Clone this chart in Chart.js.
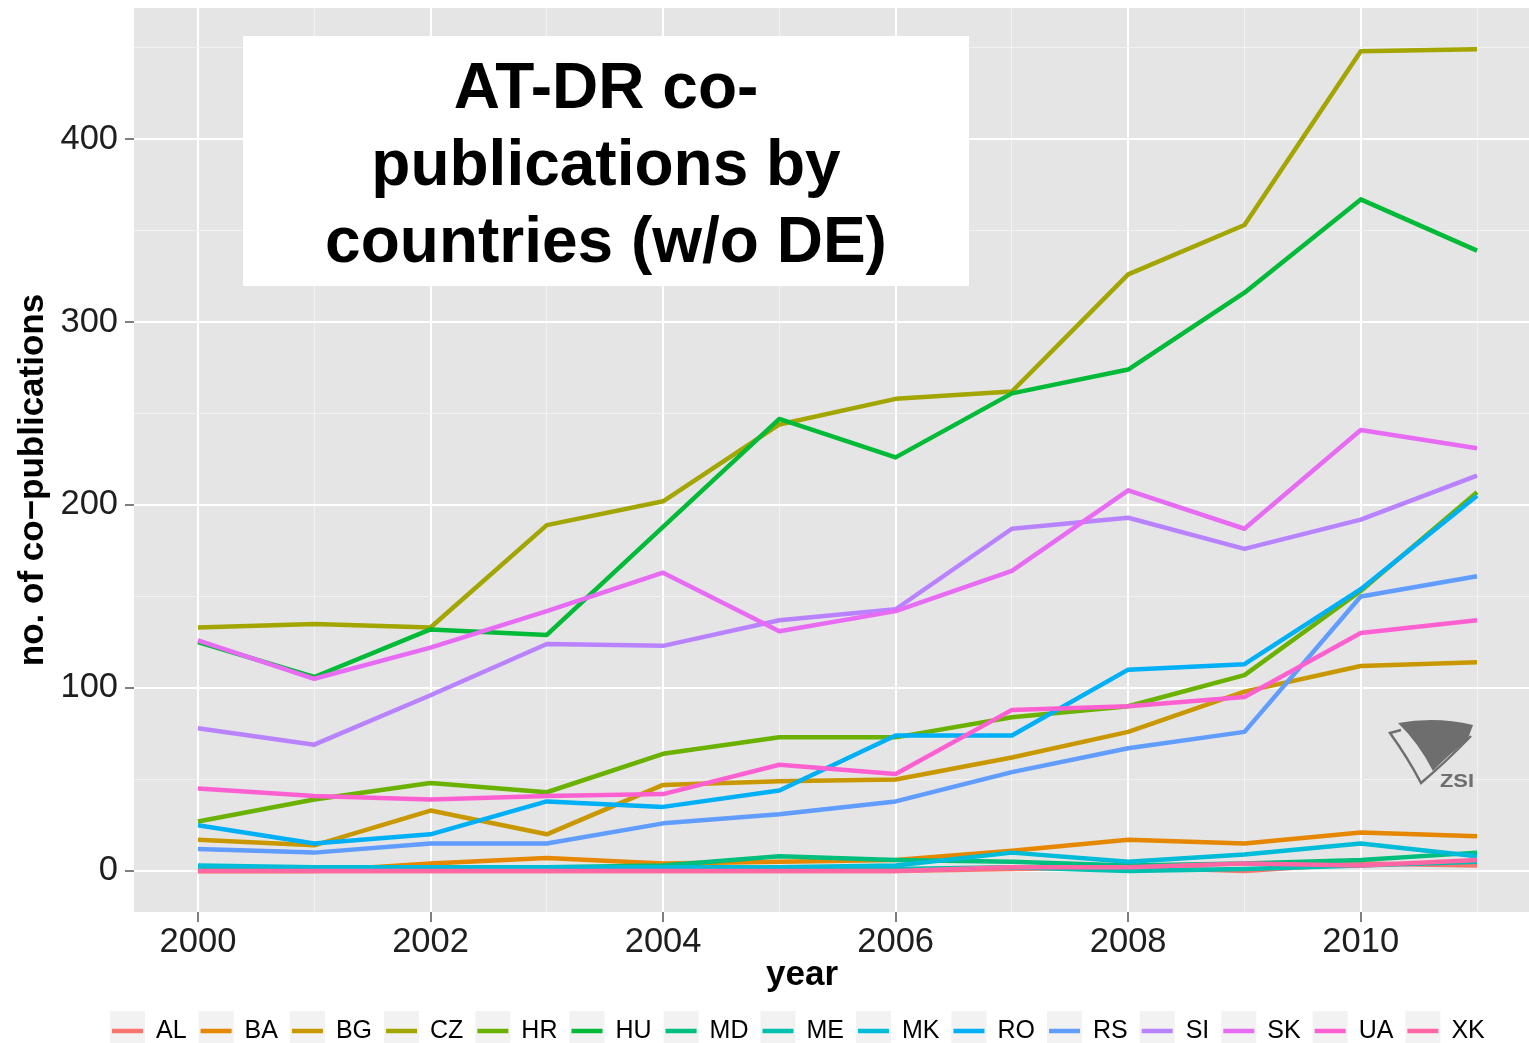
<!DOCTYPE html>
<html>
<head>
<meta charset="utf-8">
<script src="https://cdn.jsdelivr.net/npm/chart.js@4.4.0/dist/chart.umd.min.js"></script>
<style>
html,body{margin:0;padding:0;background:#fff;overflow:hidden;}
#c{display:block;}
</style>
</head>
<body>
<canvas id="c" width="1529" height="1043"></canvas>
<script>
// ---- data ----
const years = [2000,2001,2002,2003,2004,2005,2006,2007,2008,2009,2010,2011];
const countries = ["AL","BA","BG","CZ","HR","HU","MD","ME","MK","RO","RS","SI","SK","UA","XK"];
const colors = ["#F8766D","#E58700","#C99800","#A3A500","#6BB100","#00BA38","#00BF7D","#00C0AF","#00BCD8","#00B0F6","#619CFF","#B983FF","#E76BF3","#FD61D1","#FF67A4"];
const AL = [0,0,0,0,0,0,0,1,2,0,4,3];
const BA = [0,0,4,7,4,5,6,11,17,15,21,19];
const BG = [17,14,33,20,47,49,50,62,76,98,112,114];
const CZ = [133,135,133,189,202,244,258,262,326,353,448,449];
const HR = [27,39,48,43,64,73,73,84,90,107,153,207];
const HU = [125,106,132,129,188,247,226,261,274,316,367,339];
const MD = [1,1,1,2,3,8,6,5,3,4,6,10];
const ME = [2,1,1,1,1,1,1,2,0,1,3,5];
const MK = [3,2,2,2,2,2,3,10,5,9,15,8];
const RO = [25,15,20,38,35,44,74,74,110,113,154,205];
const RS = [12,10,15,15,26,31,38,54,67,76,150,161];
const SI = [78,69,96,124,123,137,143,187,193,176,192,216];
const SK = [126,105,122,142,163,131,142,164,208,187,241,231];
const UA = [45,41,39,41,42,58,53,88,90,95,130,137];
const XK = [0,0,0,0,0,0,0,2,2,4,3,6];
const seriesValues = [AL,BA,BG,CZ,HR,HU,MD,ME,MK,RO,RS,SI,SK,UA,XK];
const yTickValues = [0,50,100,150,200,250,300,350,400,450];
const yLabelValues = [0,100,200,300,400];
const xLabelValues = [2000,2002,2004,2006,2008,2010];
const titleLines = ["AT-DR co-","publications by","countries (w/o DE)"];
const xTitle = "year";
const yTitle = "no. of co\u2212publications";

const FAM = '"Liberation Sans", Arial, Helvetica, sans-serif';

const datasets = countries.map((name, i) => ({
  label: name,
  data: years.map((yr, j) => ({x: yr, y: seriesValues[i][j]})),
  borderColor: colors[i],
  backgroundColor: colors[i],
  borderWidth: 4.5,
  pointRadius: 0,
  tension: 0,
  fill: false,
  borderJoinStyle: 'round',
  borderCapStyle: 'butt',
  order: countries.length - 1 - i
}));

const decor = {
  id: 'decor',
  beforeDraw(chart) {
    const ctx = chart.ctx, a = chart.chartArea;
    ctx.save();
    ctx.fillStyle = '#FFFFFF';
    ctx.fillRect(0, 0, chart.width, chart.height);
    ctx.fillStyle = '#E5E5E5';
    ctx.fillRect(a.left, a.top, a.right - a.left, a.bottom - a.top);
    ctx.restore();
  },
  afterDraw(chart) {
    const ctx = chart.ctx;
    ctx.save();
    // title box
    ctx.fillStyle = '#FFFFFF';
    ctx.fillRect(243, 36, 726, 250);
    ctx.fillStyle = '#000000';
    ctx.font = 'bold 64px ' + FAM;
    ctx.textAlign = 'center';
    ctx.textBaseline = 'alphabetic';
    titleLines.forEach((t, i) => ctx.fillText(t, 606, 108 + i * 77));

    // axis titles
    ctx.font = 'bold 35px ' + FAM;
    ctx.fillText(xTitle, 802, 985);
    ctx.save();
    ctx.translate(43, 480);
    ctx.rotate(-Math.PI / 2);
    ctx.fillText(yTitle, 0, 0);
    ctx.restore();

    // legend
    ctx.font = '25px ' + FAM;
    ctx.textAlign = 'left';
    ctx.textBaseline = 'middle';
    let x = 110;
    const yc = 1031;
    countries.forEach((name, i) => {
      ctx.fillStyle = '#F2F2F2';
      ctx.fillRect(x, 1011, 35, 40);
      ctx.strokeStyle = colors[i];
      ctx.lineWidth = 4.5;
      ctx.beginPath();
      ctx.moveTo(x + 2, yc);
      ctx.lineTo(x + 33, yc);
      ctx.stroke();
      ctx.fillStyle = '#000000';
      ctx.fillText(name, x + 46, yc);
      x += 58 + ctx.measureText(name).width;
    });

    // ZSI logo
    ctx.fillStyle = '#6E6E6E';
    ctx.beginPath();
    ctx.moveTo(1398, 723);
    ctx.quadraticCurveTo(1436, 716, 1473, 725);
    ctx.lineTo(1467, 741);
    ctx.quadraticCurveTo(1449, 754, 1433, 771);
    ctx.quadraticCurveTo(1418, 742, 1398, 723);
    ctx.closePath();
    ctx.fill();
    ctx.strokeStyle = '#6E6E6E';
    ctx.lineWidth = 2.4;
    ctx.beginPath();
    ctx.moveTo(1401, 730);
    ctx.lineTo(1390, 733);
    ctx.quadraticCurveTo(1408, 758, 1421, 783);
    ctx.quadraticCurveTo(1446, 762, 1471, 736);
    ctx.stroke();
    ctx.save();
    ctx.font = 'bold 19px ' + FAM;
    ctx.textAlign = 'left';
    ctx.textBaseline = 'alphabetic';
    ctx.fillStyle = '#6E6E6E';
    ctx.translate(1440, 787);
    ctx.scale(1.15, 1);
    ctx.fillText('ZSI', 0, 0);
    ctx.restore();
    ctx.restore();
  }
};

const isMajorX = v => xLabelValues.includes(v);
const isMajorY = v => yLabelValues.includes(v);

new Chart(document.getElementById('c'), {
  type: 'line',
  data: { datasets },
  options: {
    responsive: false,
    animation: false,
    events: [],
    layout: { padding: { top: 8, right: 0, bottom: 0, left: 0 } },
    plugins: { legend: { display: false }, tooltip: { enabled: false }, title: { display: false } },
    scales: {
      x: {
        type: 'linear',
        min: 1999.45,
        max: 2011.447,
        afterBuildTicks: s => { s.ticks = years.map(v => ({ value: v })); },
        afterFit: s => { s.height = 131; s.paddingLeft = 0; s.paddingRight = 0; },
        border: { display: false },
        grid: {
          color: c => (c.tick && isMajorX(c.tick.value)) ? '#FFFFFF' : '#F2F2F2',
          lineWidth: c => (c.tick && isMajorX(c.tick.value)) ? 2 : 1,
          drawTicks: true,
          tickLength: 10,
          tickWidth: 2,
          tickColor: c => (c.tick && isMajorX(c.tick.value)) ? '#7F7F7F' : 'rgba(0,0,0,0)'
        },
        ticks: {
          autoSkip: false,
          maxRotation: 0,
          padding: 0,
          color: '#1E1E1E',
          font: { size: 34.5, family: FAM },
          callback: v => isMajorX(v) ? String(v) : ''
        }
      },
      y: {
        type: 'linear',
        min: -22.45,
        max: 471.6,
        afterBuildTicks: s => { s.ticks = yTickValues.map(v => ({ value: v })); },
        afterFit: s => { s.width = 134; s.paddingTop = 0; s.paddingBottom = 0; },
        border: { display: false },
        grid: {
          color: c => (c.tick && isMajorY(c.tick.value)) ? '#FFFFFF' : '#F2F2F2',
          lineWidth: c => (c.tick && isMajorY(c.tick.value)) ? 2 : 1,
          drawTicks: true,
          tickLength: 9,
          tickWidth: 2,
          tickColor: c => (c.tick && isMajorY(c.tick.value)) ? '#7F7F7F' : 'rgba(0,0,0,0)'
        },
        ticks: {
          autoSkip: false,
          padding: 7,
          color: '#1E1E1E',
          font: { size: 34.5, family: FAM },
          callback: v => isMajorY(v) ? String(v) : ''
        }
      }
    }
  },
  plugins: [decor]
});
</script>
</body>
</html>
